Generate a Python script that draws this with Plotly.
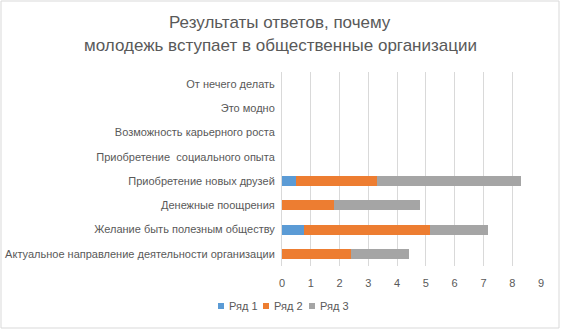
import plotly.graph_objects as go

categories = [
    "Актуальное направление деятельности организации",
    "Желание быть полезным обществу",
    "Денежные поощрения",
    "Приобретение новых друзей",
    "Приобретение  социального опыта",
    "Возможность карьерного роста",
    "Это модно",
    "От нечего делать",
]
series1 = [0, 0.75, 0, 0.5, None, None, None, None]
series2 = [2.4, 4.4, 1.8, 2.8, None, None, None, None]
series3 = [2, 2, 3, 5, None, None, None, None]
series_names = ["Ряд 1", "Ряд 2", "Ряд 3"]
colors = ["#5B9BD5", "#ED7D31", "#A5A5A5"]
x_ticks = list(range(0, 10))
title_lines = ["Результаты ответов, почему", "молодежь вступает в общественные организации"]

W, H = 561, 330
L, R, T, B = 282, 20, 72, 64
PW, PH = W - L - R, H - T - B

def px(x):
    return (x - L) / PW

def py(y):
    return (H - B - y) / PH

fig = go.Figure()
for name, vals, c in zip(series_names, [series1, series2, series3], colors):
    fig.add_trace(go.Bar(y=categories, x=vals, name=name, orientation="h",
                         marker=dict(color=c, line=dict(width=0)), showlegend=False))

font_family = "Liberation Sans, Arial, sans-serif"
text_color = "#595959"

annotations = []
for i, line in enumerate(title_lines):
    annotations.append(dict(text=line, xref="paper", yref="paper", x=px(280), y=py(22 + 23 * i),
                            xanchor="center", yanchor="middle", showarrow=False,
                            font=dict(size=17, color=text_color, family=font_family)))

shapes = [dict(type="rect", xref="paper", yref="paper",
               x0=px(1), x1=px(559), y0=py(328), y1=py(1),
               line=dict(color="#D9D9D9", width=1), fillcolor="rgba(0,0,0,0)", layer="below")]

legend_x = [218, 263, 309]
for name, c, lx in zip(series_names, colors, legend_x):
    shapes.append(dict(type="rect", xref="paper", yref="paper",
                       x0=px(lx), x1=px(lx + 6), y0=py(309), y1=py(303),
                       line=dict(width=0), fillcolor=c))
    annotations.append(dict(text=name, xref="paper", yref="paper", x=px(lx + 9), y=py(306),
                            xanchor="left", yanchor="middle", showarrow=False,
                            font=dict(size=11, color=text_color, family=font_family)))

fig.update_layout(
    barmode="stack",
    bargap=0.59,
    width=W, height=H,
    margin=dict(l=L, r=R, t=T, b=B),
    paper_bgcolor="white", plot_bgcolor="white",
    font=dict(family=font_family, color=text_color, size=11),
    showlegend=False,
    xaxis=dict(range=[0, 9], tickvals=x_ticks, showgrid=True, gridcolor="#D9D9D9",
               gridwidth=1, zeroline=False, showline=False, ticks="",
               ticklabelstandoff=9,
               tickfont=dict(size=11, color=text_color), automargin=False),
    yaxis=dict(categoryorder="array", categoryarray=categories, showgrid=False,
               showline=True, linecolor="#D9D9D9", linewidth=1, ticks="",
               ticklabelstandoff=4,
               ticklen=0, tickfont=dict(size=11, color=text_color), automargin=False),
    annotations=annotations,
    shapes=shapes,
)
fig.write_html("out.html", config={"displayModeBar": False},
               post_script="document.body.style.margin='0';")
